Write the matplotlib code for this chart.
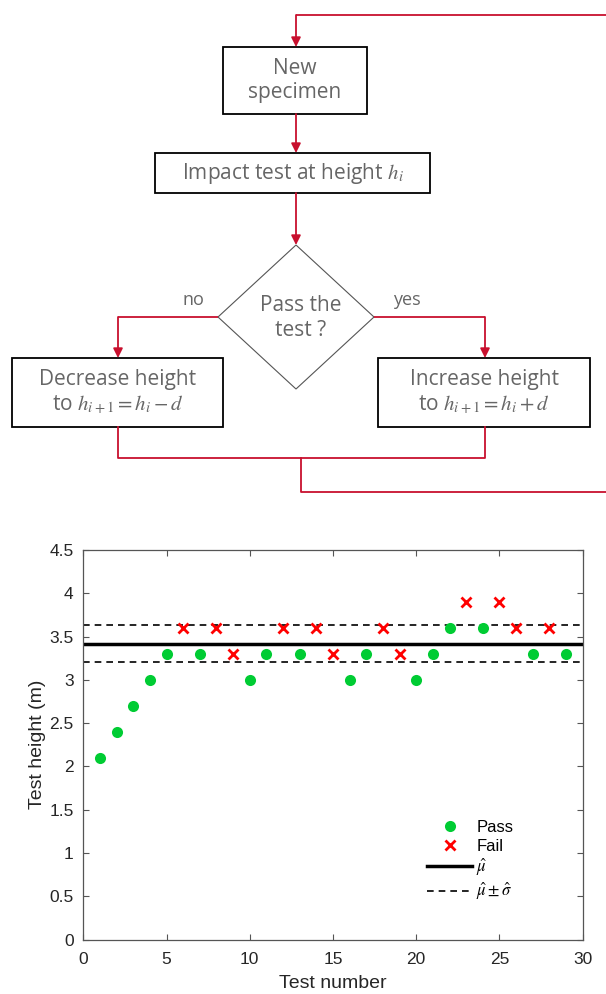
import matplotlib
matplotlib.use("Agg")
import matplotlib.pyplot as plt
from matplotlib.patches import Rectangle, Polygon

plt.rcParams['mathtext.fontset'] = 'stix'

# test data (staircase / up-and-down method)
test_no = list(range(1, 30))
heights = [2.1, 2.4, 2.7, 3.0, 3.3, 3.6, 3.3, 3.6, 3.3, 3.0,
           3.3, 3.6, 3.3, 3.6, 3.3, 3.0, 3.3, 3.6, 3.3, 3.0,
           3.3, 3.6, 3.9, 3.6, 3.9, 3.6, 3.3, 3.6, 3.3]
passed = [1, 1, 1, 1, 1, 0, 1, 0, 0, 1,
          1, 0, 1, 0, 0, 1, 1, 0, 0, 1,
          1, 1, 0, 1, 0, 0, 1, 0, 1]
mu_hat = 3.415
sigma_hat = 0.213

# flowchart texts
box_new = "New\nspecimen"
box_impact = "Impact test at height $h_i$"
box_decision = "Pass the\ntest ?"
box_decrease = "Decrease height\nto $h_{i+1} = h_i - d$"
box_increase = "Increase height\nto $h_{i+1} = h_i + d$"

RED = '#C8102E'
GREY_TXT = '#666666'
AX_COL = '#262626'
W, H = 606, 994

fig = plt.figure(figsize=(W / 100, H / 100), dpi=100)

# ---- flowchart on an overlay axes in pixel coordinates ----
fc = fig.add_axes([0, 0, 1, 1])
fc.set_xlim(0, W)
fc.set_ylim(H, 0)
fc.axis('off')

def box(x0, y0, x1, y1, text):
    fc.add_patch(Rectangle((x0, y0), x1 - x0, y1 - y0, fill=False,
                           edgecolor='black', lw=1.3))
    fc.text((x0 + x1) / 2, (y0 + y1) / 2, text,
            ha='center', va='center', fontsize=15, color=GREY_TXT,
            family='Open Sans', linespacing=1.2)

def red_path(xs, ys, arrow=True):
    if arrow:
        fc.plot(xs[:-1], ys[:-1], color=RED, lw=1.3, solid_capstyle='butt')
        fc.annotate('', xy=(xs[-1], ys[-1]), xytext=(xs[-2], ys[-2]),
                    arrowprops=dict(arrowstyle='-|>', color=RED, lw=1.3,
                                    mutation_scale=14, shrinkA=0, shrinkB=0))
    else:
        fc.plot(xs, ys, color=RED, lw=1.3)

red_path([606, 296, 296], [15, 15, 47])
box(223, 47, 367, 114, box_new)
red_path([296, 296], [114, 153])
box(155, 153, 430, 193, box_impact)
red_path([296, 296], [193, 245])

fc.add_patch(Polygon([(296, 245), (374, 317), (296, 389), (218, 317)],
                     closed=True, fill=False, edgecolor='#555555', lw=0.8))
fc.text(301, 318, box_decision, ha='center', va='center', fontsize=15,
        color=GREY_TXT, family='Open Sans', linespacing=1.2)
fc.text(193, 300, "no", ha='center', va='center', fontsize=13,
        color=GREY_TXT, family='Open Sans')
fc.text(407, 300, "yes", ha='center', va='center', fontsize=13,
        color=GREY_TXT, family='Open Sans')

red_path([218, 118, 118], [317, 317, 358])
red_path([374, 485, 485], [317, 317, 358])
box(12, 358, 223, 427, box_decrease)
box(378, 358, 590, 427, box_increase)
red_path([118, 118, 485, 485], [427, 458, 458, 427], arrow=False)
red_path([301, 301, 606], [458, 492, 492], arrow=False)

# ---- test results plot ----
ax = fig.add_axes([83.3 / W, 1 - 939.5 / H, 499.4 / W, 389.5 / H])

px = [n for n, p in zip(test_no, passed) if p]
py = [h for h, p in zip(heights, passed) if p]
fx = [n for n, p in zip(test_no, passed) if not p]
fy = [h for h, p in zip(heights, passed) if not p]

ax.plot(px, py, 'o', color='#00CC33', markersize=8, mec='none', label='Pass', zorder=3)
ax.plot(fx, fy, 'x', color='#FF0000', markersize=7, mew=2, label='Fail', zorder=3)
ax.axhline(mu_hat, color='black', lw=2.5, label=r'$\hat{\mu}$')
ax.axhline(mu_hat + sigma_hat, color='black', lw=1.2, ls='--', dashes=(4, 3),
           label=r'$\hat{\mu}\pm\hat{\sigma}$')
ax.axhline(mu_hat - sigma_hat, color='black', lw=1.2, ls='--', dashes=(4, 3))

ax.set_xlim(0, 30)
ax.set_ylim(0, 4.5)
ax.set_xticks(range(0, 31, 5))
ax.set_yticks([0, 0.5, 1, 1.5, 2, 2.5, 3, 3.5, 4, 4.5])
ax.set_yticklabels(['0', '0.5', '1', '1.5', '2', '2.5', '3', '3.5', '4', '4.5'])
ax.tick_params(direction='in', top=True, right=True, labelsize=12.5,
               labelcolor=AX_COL, color='#555555', length=4, width=0.8)
ax.tick_params(axis='x', pad=9)
ax.tick_params(axis='y', pad=7)
for s in ax.spines.values():
    s.set_color('#555555')
    s.set_linewidth(0.9)
ax.set_xlabel('Test number', fontsize=14, color=AX_COL, labelpad=6,
              family='Liberation Sans')
ax.set_ylabel('Test height (m)', fontsize=14, color=AX_COL, labelpad=2,
              family='Liberation Sans')
for lab in ax.get_xticklabels() + ax.get_yticklabels():
    lab.set_family('Liberation Sans')

ax.legend(loc='lower left', bbox_to_anchor=(0.672, 0.074), frameon=False,
          borderpad=0, handlelength=2.7, labelspacing=0.2, handletextpad=0.25,
          prop={'family': 'Liberation Sans', 'size': 12})

fig.savefig('out.png', dpi=100)
